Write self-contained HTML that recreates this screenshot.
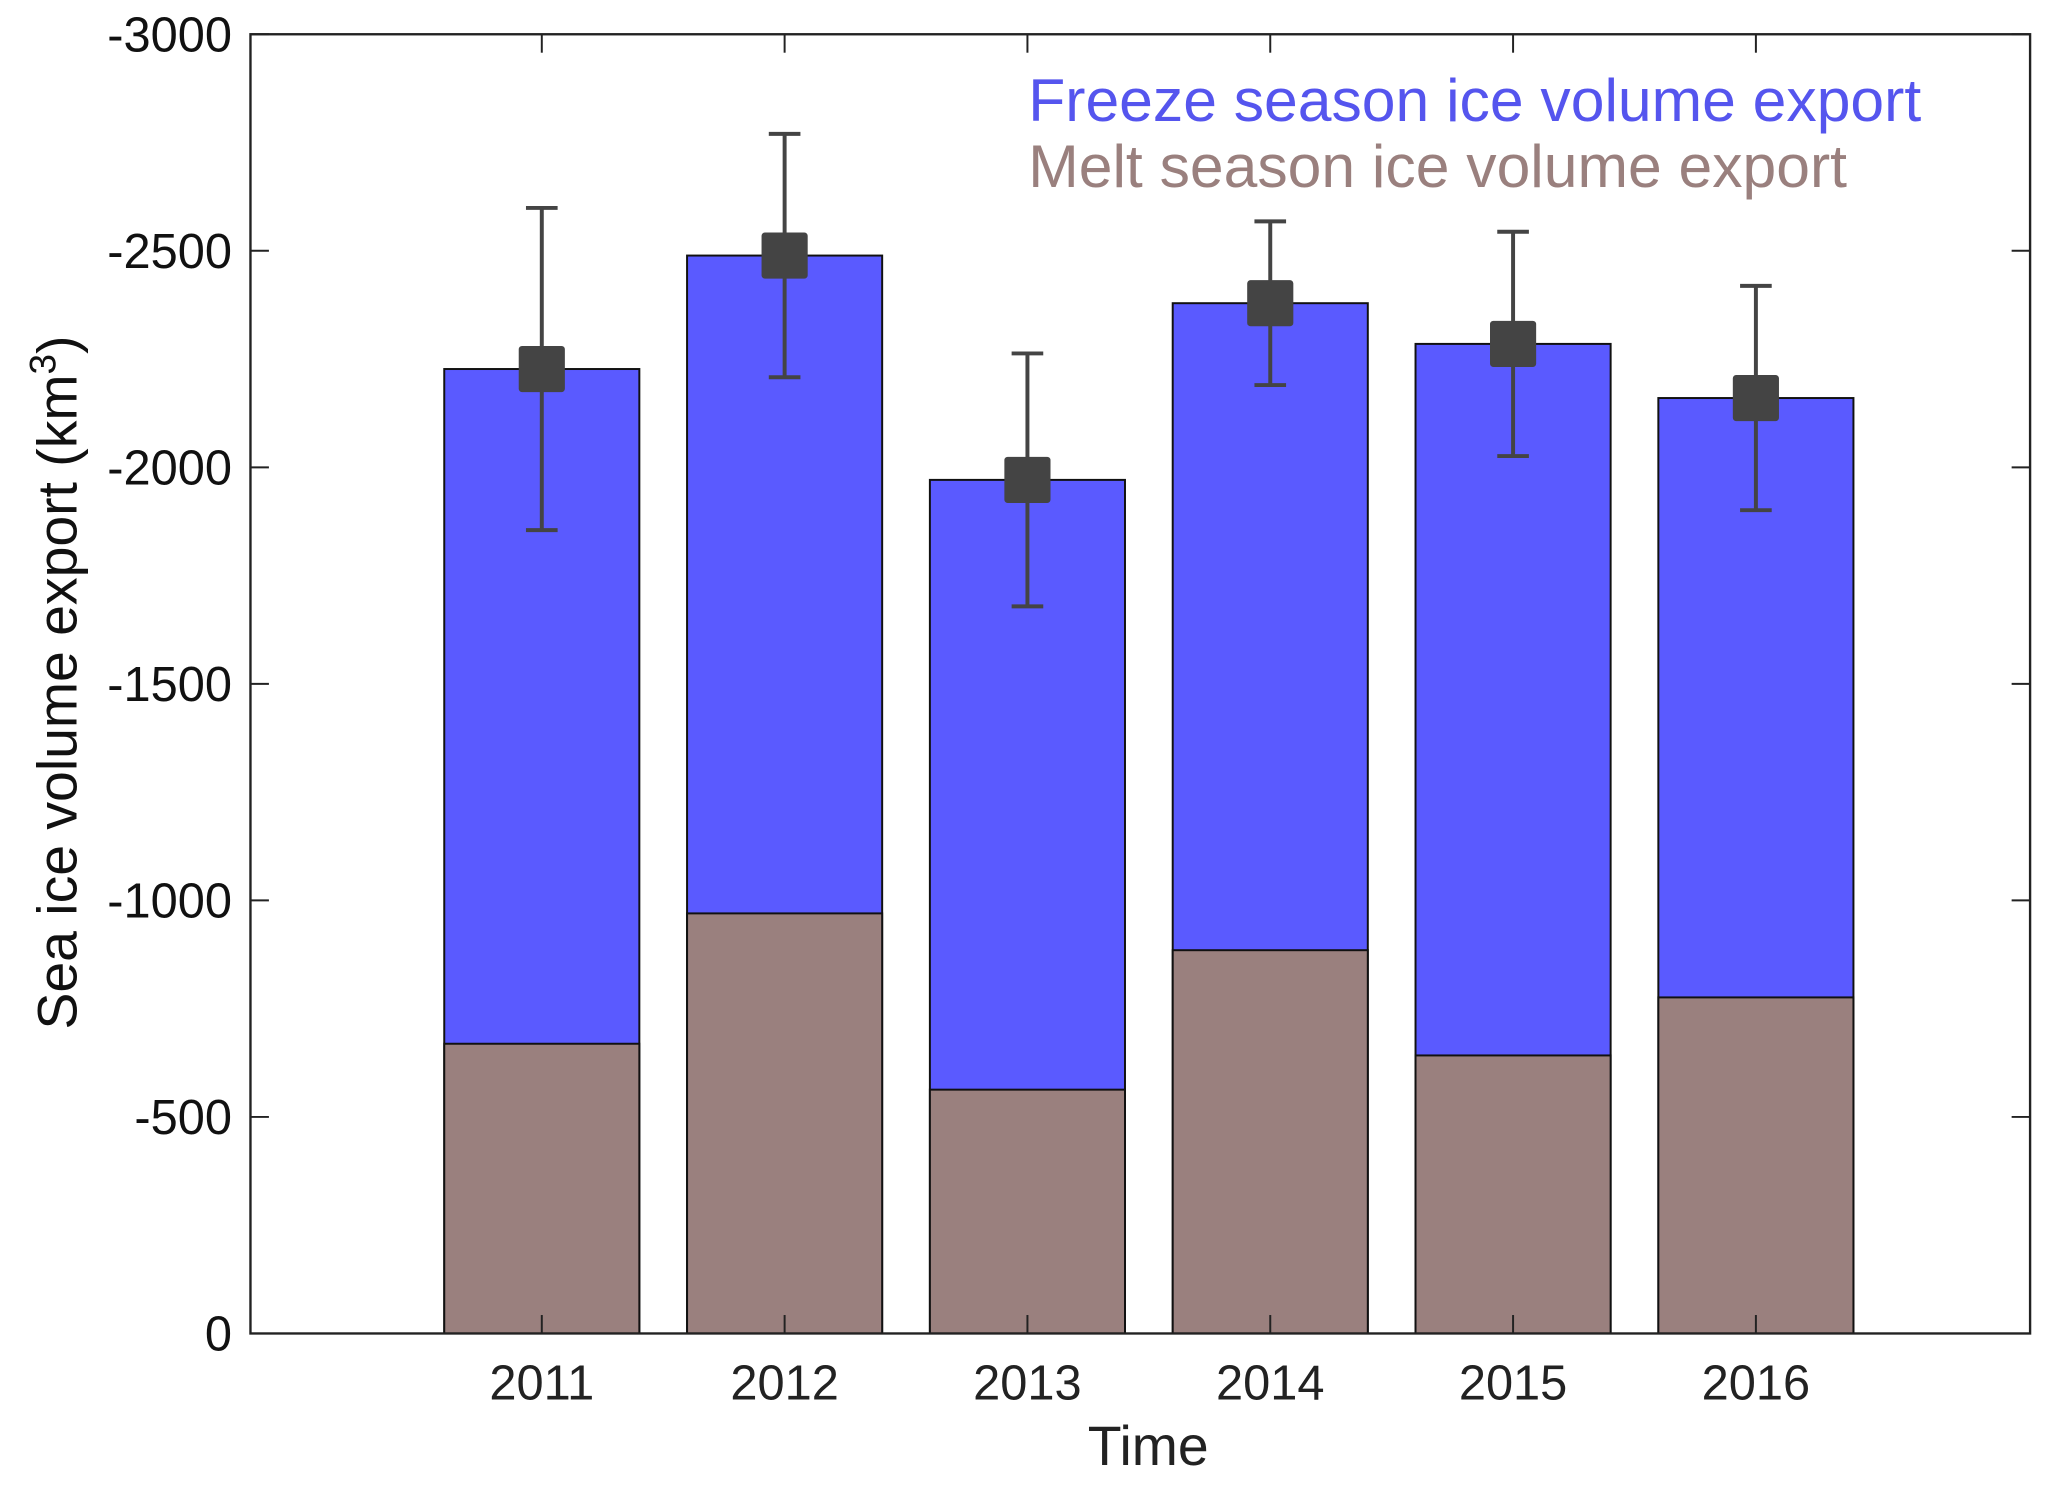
<!DOCTYPE html>
<html><head><meta charset="utf-8"><style>
html,body{margin:0;padding:0;background:#fff;}
svg{display:block;font-family:"Liberation Sans",Arial,sans-serif;}
</style></head><body>
<svg id="chart" width="2067" height="1485" viewBox="0 0 1568 1127" preserveAspectRatio="none" xmlns="http://www.w3.org/2000/svg">
<rect x="0" y="0" width="1568" height="1127" fill="#fff"/>
<g id="marks"></g>
<g id="axes"></g>
<text x="780" y="92" font-size="46" fill="#5555ee">Freeze season ice volume export</text>
<text x="780" y="142" font-size="46" fill="#9a807e">Melt season ice volume export</text>
<text x="871" y="1112" font-size="42" text-anchor="middle" fill="#222">Time</text>
<text transform="translate(58,518) rotate(-90)" font-size="42" text-anchor="middle" fill="#111">Sea ice volume export (km<tspan font-size="28" dy="-16">3</tspan><tspan dy="16">)</tspan></text>
</svg>
<script>
const years = [2011, 2012, 2013, 2014, 2015, 2016];
const totalExport = [-2227, -2489, -1971, -2379, -2285, -2160];
const meltExport = [-669, -970, -563, -885, -642, -776];
const errorSize = [372, 281, 292, 189, 259, 259];
const yTicks = [0, -500, -1000, -1500, -2000, -2500, -3000];

const L = 190, R = 1540, T = 26, B = 1012;
const NS = 'http://www.w3.org/2000/svg';
function y(v){ return B + (v / 3000) * (B - T); }
function x(yr){ return 411 + (yr - 2011) * 184.2; }
function mk(tag, attrs, parent){
  const e = document.createElementNS(NS, tag);
  for (const k in attrs) e.setAttribute(k, attrs[k]);
  parent.appendChild(e); return e;
}
const marks = document.getElementById('marks');
const axes = document.getElementById('axes');
const bw = 148;
years.forEach((yr, i) => {
  const cx = x(yr);
  const b1 = mk('rect', {x: cx - bw/2, y: y(totalExport[i]), width: bw, height: y(0) - y(totalExport[i]), fill: '#5a5aff', stroke: '#111', 'stroke-width': 1.5}, marks);
  
  
  const b2 = mk('rect', {x: cx - bw/2, y: y(meltExport[i]), width: bw, height: y(0) - y(meltExport[i]), fill: '#9a807e', stroke: '#111', 'stroke-width': 1.5}, marks);
  
  
  const top = y(totalExport[i] - errorSize[i]), bot = y(totalExport[i] + errorSize[i]);
  const g = mk('g', {stroke: '#444', 'stroke-width': 3}, marks);
  
  
  mk('line', {x1: cx, x2: cx, y1: top, y2: bot}, g);
  mk('line', {x1: cx - 12, x2: cx + 12, y1: top, y2: top}, g);
  mk('line', {x1: cx - 12, x2: cx + 12, y1: bot, y2: bot}, g);
  const m = mk('rect', {x: cx - 17, y: y(totalExport[i]) - 17, width: 34, height: 34, fill: '#444', stroke: '#444', 'stroke-width': 1, rx: 2}, marks);
  
  
  const t = mk('text', {x: cx, y: 1062, 'font-size': 37, 'text-anchor': 'middle', fill: '#222'}, axes);
  t.textContent = yr;
  
  
  mk('line', {x1: cx, x2: cx, y1: B, y2: B - 14, stroke: '#222', 'stroke-width': 1.5}, axes);
  mk('line', {x1: cx, x2: cx, y1: T, y2: T + 14, stroke: '#222', 'stroke-width': 1.5}, axes);
});
yTicks.forEach(v => {
  const yy = y(v);
  mk('line', {x1: L, x2: L + 14, y1: yy, y2: yy, stroke: '#222', 'stroke-width': 1.5}, axes);
  mk('line', {x1: R, x2: R - 14, y1: yy, y2: yy, stroke: '#222', 'stroke-width': 1.5}, axes);
  const t = mk('text', {x: 176, y: yy + 13, 'font-size': 37, 'text-anchor': 'end', fill: '#111'}, axes);
  t.textContent = v;
  
  
});
const box = mk('rect', {x: L, y: T, width: R - L, height: B - T, fill: 'none', stroke: '#222', 'stroke-width': 1.8}, axes);


</script>
</body></html>
